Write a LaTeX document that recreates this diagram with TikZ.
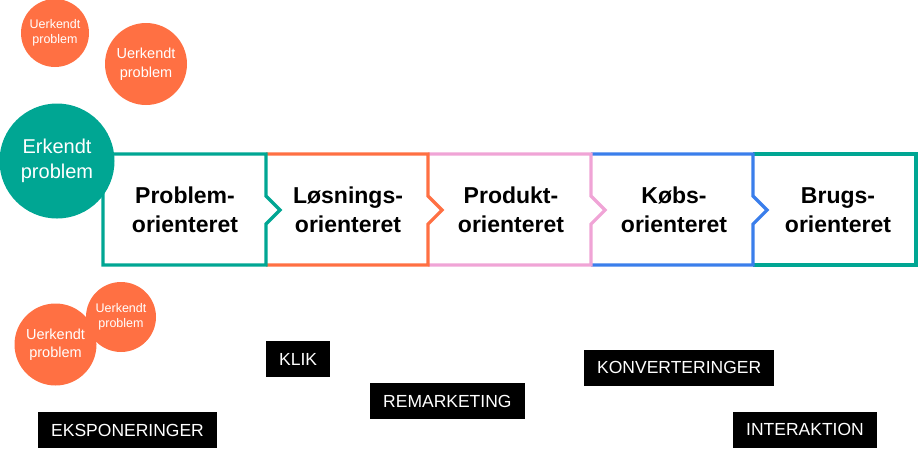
\documentclass[tikz,border=0pt]{standalone}
\usepackage{fontspec}
\setmainfont{Liberation Sans}
\usepackage{tikz}

\definecolor{teal}{RGB}{0,166,147}
\definecolor{orng}{RGB}{255,112,67}
\definecolor{pink}{RGB}{240,164,214}
\definecolor{blue}{RGB}{58,126,235}

\begin{document}
\begin{tikzpicture}[x=1pt, y=-1pt,
	frame/.style={line width=3.2pt, line join=miter},
	stage/.style={align=center, font=\fontsize{23}{29}\selectfont\bfseries},
	uerkendt/.style={shape=circle, fill=orng, inner sep=0pt, text=white, align=center},
	tag/.style={fill=black, text=white, anchor=west, inner xsep=13pt, minimum height=36pt, font=\fontsize{17.5}{20}\selectfont}]
	\useasboundingbox (0,0) rectangle (920,448);

	% boxes, drawn right to left so each notch lies on top
	\draw[frame, draw=teal] (753,154) -- (916,154) -- (916,265) -- (753,265);
	\draw[frame, draw=blue] (591,154) -- (753,154) -- (753,196) -- (767,210) -- (753,224) -- (753,265) -- (591,265);
	\draw[frame, draw=pink] (428,154) -- (591,154) -- (591,196) -- (605,210) -- (591,224) -- (591,265) -- (428,265);
	\draw[frame, draw=orng] (266,154) -- (428,154) -- (428,196) -- (442,210) -- (428,224) -- (428,265) -- (266,265);
	\draw[frame, draw=teal] (266,154) -- (103,154) -- (103,265) -- (266,265) -- (266,224) -- (280,210) -- (266,196) -- cycle;

	\node[stage] (probl) at (185,210) {Problem-\\orienteret};
	\node[stage] (loesn) at (348,210) {Løsnings-\\orienteret};
	\node[stage] (prod)  at (511,210) {Produkt-\\orienteret};
	\node[stage] (koeb)  at (674,210) {Købs-\\orienteret};
	\node[stage] (brug)  at (838,210) {Brugs-\\orienteret};

	% circles
	\node[shape=circle, fill=teal, inner sep=0pt, minimum size=115pt, text=white, align=center, font=\fontsize{20}{25}\selectfont] (erk) at (57,161) {Erkendt\\problem};
	\node[uerkendt, minimum size=68pt, font=\fontsize{12.5}{15}\selectfont] (ua) at (55,33)  {Uerkendt\\problem};
	\node[uerkendt, minimum size=82pt, font=\fontsize{14.5}{18.5}\selectfont] (ub) at (146,64) {Uerkendt\\problem};
	\node[uerkendt, minimum size=82pt, font=\fontsize{14.5}{18.5}\selectfont] (uc) at (55.5,344.5) {Uerkendt\\problem};
	\node[uerkendt, minimum size=70pt, font=\fontsize{12.5}{15.5}\selectfont] (ud) at (121,317) {Uerkendt\\problem};

	% labels
	\node[tag] (ekspo) at (38,430)    {EKSPONERINGER};
	\node[tag] (klik)  at (266,359)   {KLIK};
	\node[tag] (remar) at (370,401)   {REMARKETING};
	\node[tag] (konv)  at (584,367.5) {KONVERTERINGER};
	\node[tag] (inter) at (733,429.5) {INTERAKTION};

\end{tikzpicture}
\end{document}
